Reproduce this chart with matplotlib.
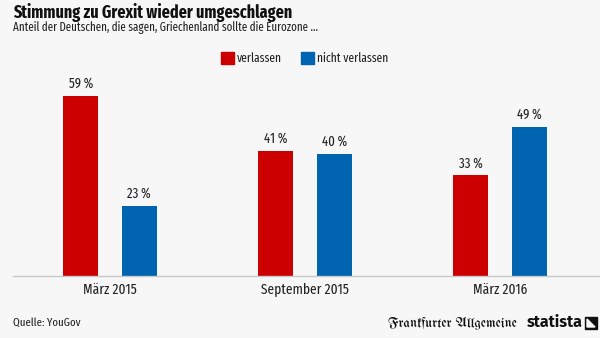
import numpy as np
import matplotlib.pyplot as plt
from matplotlib.patches import Rectangle, Polygon

# data
groups = ['März 2015', 'September 2015', 'März 2016']
verlassen = [59, 41, 33]
nicht_verlassen = [23, 40, 49]
series_names = ['verlassen', 'nicht verlassen']

red = '#cc0000'
blue = '#0064b1'
bg = '#f7f7f7'
font = ['Fira Sans Extra Condensed', 'Fira Sans Condensed', 'DejaVu Sans']
plt.rcParams['font.family'] = font

W, H = 600, 338
fig = plt.figure(figsize=(W / 100, H / 100), dpi=100, facecolor=bg)

# axes placed in pixel coordinates
left, right, bottom, top = 13, 600, 276, 77.75
ax = fig.add_axes([left / W, 1 - bottom / H, (right - left) / W, (bottom - top) / H])
ax.set_facecolor(bg)

x = np.arange(len(groups))
off, bw = 0.15, 0.18
b1 = ax.bar(x - off, verlassen, bw, color=red)
b2 = ax.bar(x + off, nicht_verlassen, bw, color=blue)

for bars, vals in ((b1, verlassen), (b2, nicht_verlassen)):
    for b, v in zip(bars, vals):
        ax.annotate(f'{v}\u2009%', (b.get_x() + b.get_width() / 2, v),
                    xytext=(0, 3.5), textcoords='offset points',
                    ha='center', va='bottom', fontsize=10, color='#222222')

ax.set_xlim(-0.497, 2.513)
ax.set_ylim(0, 65)
for s in ['top', 'right', 'left']:
    ax.spines[s].set_visible(False)
ax.spines['bottom'].set_color('#c8c8c8')
ax.spines['bottom'].set_linewidth(1)
ax.set_yticks([])
ax.set_xticks(x)
ax.set_xticklabels(groups, fontsize=10.5, color='#222222')
ax.tick_params(axis='x', length=0, pad=5)

# title and subtitle
fig.text(13 / W, 1 - 12 / H, 'Stimmung zu Grexit wieder umgeschlagen',
         fontsize=12.5, fontweight='bold', color='#111111', va='center')
fig.text(13 / W, 1 - 28 / H, 'Anteil der Deutschen, die sagen, Griechenland sollte die Eurozone …',
         fontsize=8.6, color='#222222', va='center')

# legend
ly = 1 - 58 / H
fig.patches.append(Rectangle((221 / W, ly - 6 / H), 12.5 / W, 12 / H,
                             transform=fig.transFigure, color=red))
fig.text(237 / W, ly, series_names[0], fontsize=9, va='center', color='#222222')
fig.patches.append(Rectangle((301 / W, ly - 6 / H), 13 / W, 12 / H,
                             transform=fig.transFigure, color=blue))
fig.text(317 / W, ly, series_names[1], fontsize=9, va='center', color='#222222')

# footer
fig.text(13 / W, 1 - 323 / H, 'Quelle: YouGov', fontsize=8.5, va='center', color='#222222')
fig.text(388 / W, 1 - 323 / H, 'Frankfurter Allgemeine', fontsize=10, va='center',
         family=['UnifrakturMaguntia', 'DejaVu Serif'], color='#111111')
fig.text(527 / W, 1 - 322 / H, 'statista', fontsize=11.5, fontweight='bold',
         va='center', color='#111111', family=['Fira Sans', 'DejaVu Sans'])
fig.patches.append(Rectangle((585 / W, 1 - 329 / H), 12 / W, 12 / H,
                             transform=fig.transFigure, color='#111111'))
fig.patches.append(Polygon([(587 / W, 1 - 327 / H), (595 / W, 1 - 327 / H), (587 / W, 1 - 319 / H)],
                           transform=fig.transFigure, color=bg))

fig.savefig('out.png', dpi=100, facecolor=bg)
